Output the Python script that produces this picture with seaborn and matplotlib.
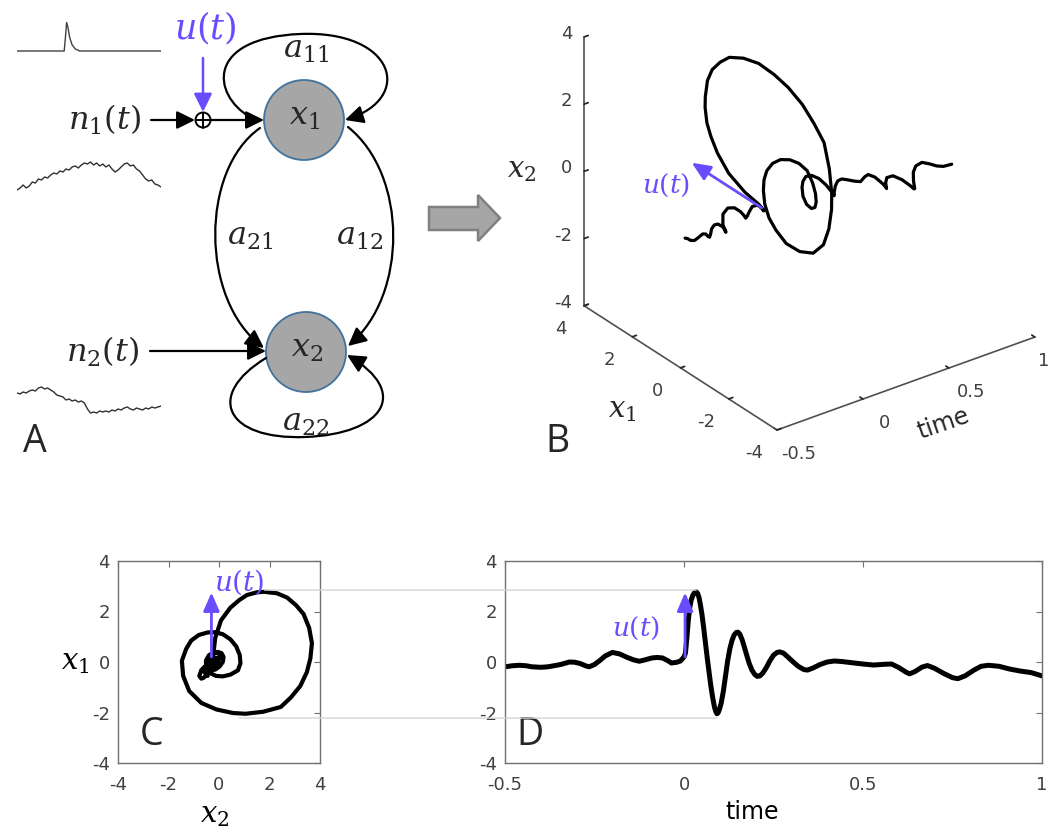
import numpy as np
import pandas as pd
import matplotlib
matplotlib.use("Agg")
import matplotlib.pyplot as plt
import seaborn as sns
from matplotlib.patches import Circle, FancyArrowPatch, Polygon, ConnectionPatch
from matplotlib.path import Path
from mpl_toolkits.mplot3d import proj3d

# ---- data ----
time = [-0.50, -0.48, -0.46, -0.44, -0.425, -0.40, -0.38, -0.36, -0.345, -0.33,
        -0.32, -0.305, -0.29, -0.275, -0.265, -0.25, -0.235, -0.22, -0.20, -0.18,
        -0.16, -0.14, -0.125, -0.11, -0.09, -0.075, -0.06, -0.045, -0.035, -0.02,
        -0.01, 0.00,
        0.004, 0.008, 0.012, 0.016, 0.020, 0.025, 0.030, 0.034, 0.038, 0.042,
        0.046, 0.050, 0.055, 0.060, 0.065, 0.070, 0.075, 0.080, 0.085, 0.089,
        0.092, 0.095, 0.099, 0.104, 0.110, 0.116, 0.122, 0.128, 0.134, 0.140,
        0.146, 0.151, 0.156, 0.162, 0.168, 0.175, 0.182, 0.190, 0.198, 0.205,
        0.212, 0.220, 0.230, 0.240, 0.250, 0.260, 0.268, 0.278, 0.290, 0.305,
        0.320, 0.335, 0.345, 0.360, 0.380, 0.400, 0.420, 0.440, 0.470, 0.500,
        0.530, 0.560, 0.580, 0.600, 0.620, 0.630, 0.645, 0.665, 0.680, 0.700,
        0.725, 0.750, 0.765, 0.785, 0.810, 0.830, 0.850, 0.880, 0.910, 0.940,
        0.970, 1.000]
x1 = [-0.19, -0.15, -0.13, -0.15, -0.19, -0.21, -0.19, -0.14, -0.10, -0.04,
      0.00, -0.01, -0.06, -0.15, -0.19, -0.10, 0.06, 0.24, 0.38, 0.32,
      0.19, 0.08, 0.03, 0.08, 0.16, 0.18, 0.16, 0.05, -0.04, -0.01,
      0.04, 0.20,
      0.35, 0.95, 1.65, 2.15, 2.45, 2.65, 2.76, 2.78, 2.72, 2.55,
      2.25, 1.90, 1.35, 0.75, 0.15, -0.40, -0.95, -1.40, -1.78, -1.97,
      -2.05, -2.02, -1.88, -1.62, -1.15, -0.55, 0.05, 0.52, 0.85, 1.07,
      1.17, 1.18, 1.10, 0.90, 0.62, 0.28, -0.05, -0.33, -0.50, -0.57,
      -0.55, -0.44, -0.22, 0.05, 0.27, 0.38, 0.40, 0.35, 0.20, 0.00,
      -0.18, -0.30, -0.32, -0.24, -0.10, 0.00, 0.04, 0.02, -0.03, -0.08,
      -0.12, -0.09, -0.08, -0.22, -0.40, -0.47, -0.38, -0.20, -0.14, -0.25,
      -0.45, -0.62, -0.66, -0.55, -0.32, -0.17, -0.13, -0.17, -0.28, -0.36,
      -0.42, -0.55]
x2 = [-0.05, -0.12, -0.22, -0.25, -0.18, -0.10, -0.15, -0.28, -0.35, -0.30,
      -0.20, -0.10, -0.08, -0.15, -0.25, -0.38, -0.42, -0.35, -0.15, 0.02,
      0.05, -0.05, -0.18, -0.30, -0.32, -0.22, -0.08, -0.02, -0.08, -0.18,
      -0.25, -0.25,
      -0.22, -0.15, 0.08, 0.45, 0.80, 1.10, 1.50, 1.80, 2.30, 2.70,
      3.05, 3.35, 3.57, 3.68, 3.62, 3.48, 3.22, 2.85, 2.45, 1.75,
      1.05, 0.55, -0.10, -0.70, -1.18, -1.42, -1.47, -1.30, -1.10, -0.80,
      -0.45, -0.15, 0.15, 0.45, 0.68, 0.82, 0.85, 0.75, 0.45, 0.15,
      -0.12, -0.35, -0.50, -0.52, -0.40, -0.20, -0.05, 0.10, 0.18, 0.15,
      0.02, -0.15, -0.25, -0.35, -0.35, -0.25, -0.15, -0.12, -0.18, -0.25,
      -0.30, -0.22, -0.20, -0.25, -0.40, -0.50, -0.60, -0.55, -0.45, -0.38,
      -0.45, -0.60, -0.70, -0.78, -0.70, -0.55, -0.42, -0.35, -0.40, -0.48,
      -0.52, -0.45]

# input pulse and the two noise traces drawn in panel A
pulse_t = [0, 15.4, 15.8, 16.2, 16.6, 17.2, 18.0, 19.0, 20.5, 47]
pulse_v = [0, 0, 0.45, 0.95, 0.80, 0.45, 0.20, 0.07, 0.0, 0]
noise1 = [0, 2, 5, 2, 4, 8, 7, 11, 10, 13, 12, 15, 17, 16, 19, 18, 21, 20, 23, 24,
          22, 25, 27, 26, 28, 25, 27, 24, 26, 23, 25, 21, 18, 20, 23, 26, 27, 24,
          25, 21, 19, 15, 11, 9, 10, 6, 5, 3]
noise2 = [22, 21, 23, 22, 24, 25, 24, 27, 28, 26, 27, 25, 23, 20, 19, 18, 15, 16,
          14, 15, 13, 14, 12, 6, 2, 3, 2, 4, 3, 4, 3, 5, 4, 6, 5, 7, 8, 6, 5, 7,
          6, 5, 7, 6, 8, 7, 8, 9]

ticks_x = [-4, -2, 0, 2, 4]
tick_labels_x = ['-4', '-2', '0', '2', '4']
time_ticks = [-0.5, 0, 0.5, 1]
time_labels = ['-0.5', '0', '0.5', '1']
stim = time.index(0.0)

purple = '#6a4cff'
tick_col = '#404040'
spine_col = '#707070'

sns.set_theme(style='white')
plt.rcParams['font.family'] = ['DejaVu Sans']
plt.rcParams['mathtext.fontset'] = 'dejavuserif'
plt.rcParams['axes.unicode_minus'] = False

W, H = 1052, 832
fig = plt.figure(figsize=(W / 100, H / 100), dpi=100)


def rect(x0, y0, x1_, y1_):
    return [x0 / W, 1 - y1_ / H, (x1_ - x0) / W, (y1_ - y0) / H]


def style_box(ax):
    for s in ax.spines.values():
        s.set_color(spine_col)
        s.set_linewidth(1.0)
    ax.tick_params(direction='in', top=True, right=True, length=4, width=0.8,
                   color=spine_col, labelsize=13, labelcolor=tick_col)
    ax.tick_params(axis='x', pad=9)
    ax.tick_params(axis='y', pad=6)


arrow_up = dict(arrowstyle='-|>,head_length=0.8,head_width=0.35', color=purple,
                lw=2, mutation_scale=14, shrinkA=0, shrinkB=0)

# ---- panel C: phase plane ----
axC = fig.add_axes(rect(118, 561, 320, 763))
sns.lineplot(x=x2, y=x1, sort=False, estimator=None, color='black', lw=3.0,
             ax=axC, solid_joinstyle='round', solid_capstyle='round')
axC.set_xlim(-4, 4)
axC.set_ylim(-4, 4)
axC.set_xticks(ticks_x)
axC.set_yticks(ticks_x)
style_box(axC)
axC.set_xlabel('$x_2$', fontsize=21, color='black', va='center')
axC.xaxis.set_label_coords(0.48, -0.257)
axC.set_ylabel('$x_1$', fontsize=21, rotation=0, color='black', va='center')
axC.yaxis.set_label_coords(-0.213, 0.5)
axC.annotate('', xy=(x2[stim] - 0.05, 2.75), xytext=(x2[stim] - 0.05, x1[stim]),
             arrowprops=arrow_up)
axC.text(0.8, 3.15, '$u(t)$', color=purple, fontsize=20, ha='center', va='center')

# ---- panel D: time series ----
axD = fig.add_axes(rect(505, 561, 1042, 763))
sns.lineplot(x=time, y=x1, estimator=None, color='black', lw=3.6, ax=axD,
             solid_joinstyle='round', solid_capstyle='round')
axD.set_xlim(-0.5, 1)
axD.set_ylim(-4, 4)
axD.set_xticks(time_ticks)
axD.set_xticklabels(time_labels)
axD.set_yticks(ticks_x)
style_box(axD)
axD.set_xlabel('time', fontsize=17, color='black', va='center')
axD.xaxis.set_label_coords(0.46, -0.243)
axD.set_ylabel('')
axD.annotate('', xy=(0.003, 2.75), xytext=(0.003, x1[stim]), arrowprops=arrow_up)
axD.text(-0.135, 1.35, '$u(t)$', color=purple, fontsize=19, ha='center', va='center')

# faint guide lines linking C and D extremes
for (cx, dx, yv) in [(1.8, 0.034, 2.85), (0.8, 0.092, -2.22)]:
    con = ConnectionPatch(xyA=(cx, yv), coordsA=axC.transData,
                          xyB=(dx, yv), coordsB=axD.transData,
                          color='#d4d4d4', lw=1.0, zorder=0.5)
    fig.add_artist(con)

# ---- panel B: 3-D trajectory ----
ax3 = fig.add_axes(rect(560, 0, 1052, 470), projection='3d')
ax3.set_proj_type('ortho')
ax3.view_init(elev=28.8, azim=-126.8)
ax3.set_box_aspect((1.05, 1.05, 1.0))
ax3.plot(time, x1, x2, color='black', lw=2.3, solid_joinstyle='round')
ax3.set_xlim(-0.5, 1)
ax3.set_ylim(-4, 4)
ax3.set_zlim(-4, 4)
ax3.set_xticks(time_ticks)
ax3.set_yticks(ticks_x)
ax3.set_zticks(ticks_x)
ax3.set_xticklabels([''] * len(time_ticks))
ax3.set_yticklabels([''] * len(ticks_x))
ax3.set_zticklabels([''] * len(ticks_x))
ax3.grid(False)
ax3.patch.set_alpha(0)
for axis in (ax3.xaxis, ax3.yaxis, ax3.zaxis):
    axis.set_pane_color((1, 1, 1, 0))
    axis.pane.set_edgecolor((1, 1, 1, 0))
    axis.line.set_color('#505050')
    axis.line.set_linewidth(1.2)
    axis._axinfo['tick']['inward_factor'] = 0.0
    axis._axinfo['tick']['outward_factor'] = 0.2
    axis._axinfo['tick']['color'] = '#505050'

# fit the projected box to where the reference puts it
fig.canvas.draw()


def to_px(t, a, b):
    xs, ys, _ = proj3d.proj_transform(t, a, b, ax3.get_proj())
    dx, dy = ax3.transData.transform((xs, ys))
    return np.array([dx, H - dy])


p_front = to_px(-0.5, -4, -4)
p_top = to_px(-0.5, 4, 4)
tgt_front = np.array([777.0, 430.0])
tgt_top = np.array([578.0, 40.0])
k = np.linalg.norm(tgt_top - tgt_front) / np.linalg.norm(p_top - p_front)
bb = ax3.get_position()
cx0, cy0 = (bb.x0 + bb.width / 2) * W, H - (bb.y0 + bb.height / 2) * H
cen_new = tgt_front - (p_front - np.array([cx0, cy0])) * k
nw, nh = bb.width * W * k, bb.height * H * k
ax3.set_position(rect(cen_new[0] - nw / 2, cen_new[1] - nh / 2,
                      cen_new[0] + nw / 2, cen_new[1] + nh / 2))
fig.canvas.draw()

# ---- overlay for panel A and labels ----
ov = fig.add_axes([0, 0, 1, 1])
ov.set_xlim(0, W)
ov.set_ylim(H, 0)
ov.axis('off')
ov.patch.set_alpha(0)

# tick labels of the 3-D box, placed next to the projected ticks
for tv, tl in zip(time_ticks, time_labels):
    p = to_px(tv, -4, -4)
    ov.text(min(p[0] + 22, W - 8), p[1] + 24, tl, fontsize=13, color=tick_col,
            ha='center', va='center')
for v, lab in zip(ticks_x, tick_labels_x):
    p = to_px(-0.5, v, -4)
    ov.text(p[0] - 23, p[1] + 23, lab, fontsize=13, color=tick_col,
            ha='center', va='center')
    p = to_px(-0.5, 4, v)
    ov.text(p[0] - 12, p[1] - 3, lab, fontsize=13, color=tick_col,
            ha='right', va='center')

# u(t) arrow in B, from the trajectory at t=0 along +x1
b0 = to_px(0, x1[stim], x2[stim])
b1 = to_px(0, 3.1, x2[stim])
ov.add_patch(FancyArrowPatch(b0, b1, **arrow_up))
ov.text(b1[0] - 26, b1[1] + 23, '$u(t)$', color=purple, fontsize=19,
        ha='center', va='center')

ov.text(522, 170, '$x_2$', fontsize=21, ha='center', va='center')
ov.text(622, 410, '$x_1$', fontsize=21, ha='center', va='center')
ov.text(943, 424, 'time', fontsize=17, ha='center', va='center', rotation=19)

# small traces of panel A
axP = fig.add_axes(rect(17, 18, 161, 54))
sns.lineplot(x=pulse_t, y=pulse_v, color='#404040', lw=1.0, ax=axP, estimator=None)
axP.set_xlim(0, 47)
axP.set_ylim(-0.1, 1.1)
axP.axis('off')
axN1 = fig.add_axes(rect(17, 158, 161, 192))
sns.lineplot(x=list(range(len(noise1))), y=noise1, color='#303030', lw=1.0,
             ax=axN1, estimator=None)
axN1.set_xlim(0, len(noise1) - 1)
axN1.set_ylim(-2, 32)
axN1.axis('off')
axN2 = fig.add_axes(rect(17, 383, 161, 417))
sns.lineplot(x=list(range(len(noise2))), y=noise2, color='#303030', lw=1.0,
             ax=axN2, estimator=None)
axN2.set_xlim(0, len(noise2) - 1)
axN2.set_ylim(-2, 32)
axN2.axis('off')

head = '-|>,head_length=0.85,head_width=0.42'


def straight(p, q, color='black', lw=1.6):
    ov.add_patch(FancyArrowPatch(p, q, arrowstyle=head, mutation_scale=13,
                                 color=color, lw=lw, shrinkA=0, shrinkB=0))


def curved(pts, lw=1.6):
    codes = [Path.MOVETO] + [Path.CURVE4] * (len(pts) - 1)
    ov.add_patch(FancyArrowPatch(path=Path(pts, codes), arrowstyle=head,
                                 mutation_scale=13, color='black', lw=lw))


node_fill = '#a6a6a6'
node_edge = '#41719c'
ov.add_patch(Circle((304, 120), 40, facecolor=node_fill, edgecolor=node_edge, lw=1.3))
ov.add_patch(Circle((306, 352), 40, facecolor=node_fill, edgecolor=node_edge, lw=1.3))
ov.text(305, 117, '$x_1$', fontsize=23, ha='center', va='center')
ov.text(307, 349, '$x_2$', fontsize=23, ha='center', va='center')

# inputs
ov.text(205, 28, '$u(t)$', color=purple, fontsize=25, ha='center', va='center')
straight((203, 58), (203, 112), color=purple, lw=1.8)
ov.text(104, 120, '$n_1(t)$', fontsize=23, ha='center', va='center')
straight((151, 120), (195, 120))
ov.add_patch(Circle((203, 120), 7.5, fill=False, edgecolor='black', lw=1.4))
ov.plot([195.5, 210.5], [120, 120], color='black', lw=1.4)
ov.plot([203, 203], [112.5, 127.5], color='black', lw=1.4)
straight((210.5, 120), (264, 120))
ov.text(102, 352, '$n_2(t)$', fontsize=23, ha='center', va='center')
straight((150, 351), (266, 351))

# couplings
curved([(250, 117), (212, 95), (205, 38), (300, 34), (395, 30), (415, 98), (345, 120)])
curved([(260, 128), (200, 170), (200, 300), (264, 348)])
curved([(348, 127), (408, 175), (408, 295), (348, 346)])
curved([(266, 358), (205, 395), (225, 440), (305, 437), (385, 434), (410, 392), (347, 355)])
ov.text(306, 50, '$a_{11}$', fontsize=23, ha='center', va='center')
ov.text(250, 237, '$a_{21}$', fontsize=23, ha='center', va='center')
ov.text(360, 237, '$a_{12}$', fontsize=23, ha='center', va='center')
ov.text(306, 422, '$a_{22}$', fontsize=23, ha='center', va='center')

# block arrow between A and B
ov.add_patch(Polygon([(429, 207), (478, 207), (478, 195), (500, 218), (478, 241),
                      (478, 230), (429, 230)], closed=True,
                     facecolor='#a6a6a6', edgecolor='#808080', lw=1.8))

# panel letters
for lab, (lx, ly) in {'A': (35, 442), 'B': (557, 442), 'C': (152, 735),
                      'D': (530, 735)}.items():
    ov.text(lx, ly, lab, fontsize=27, ha='center', va='center', family='Open Sans')

fig.savefig('out.png', dpi=100)
